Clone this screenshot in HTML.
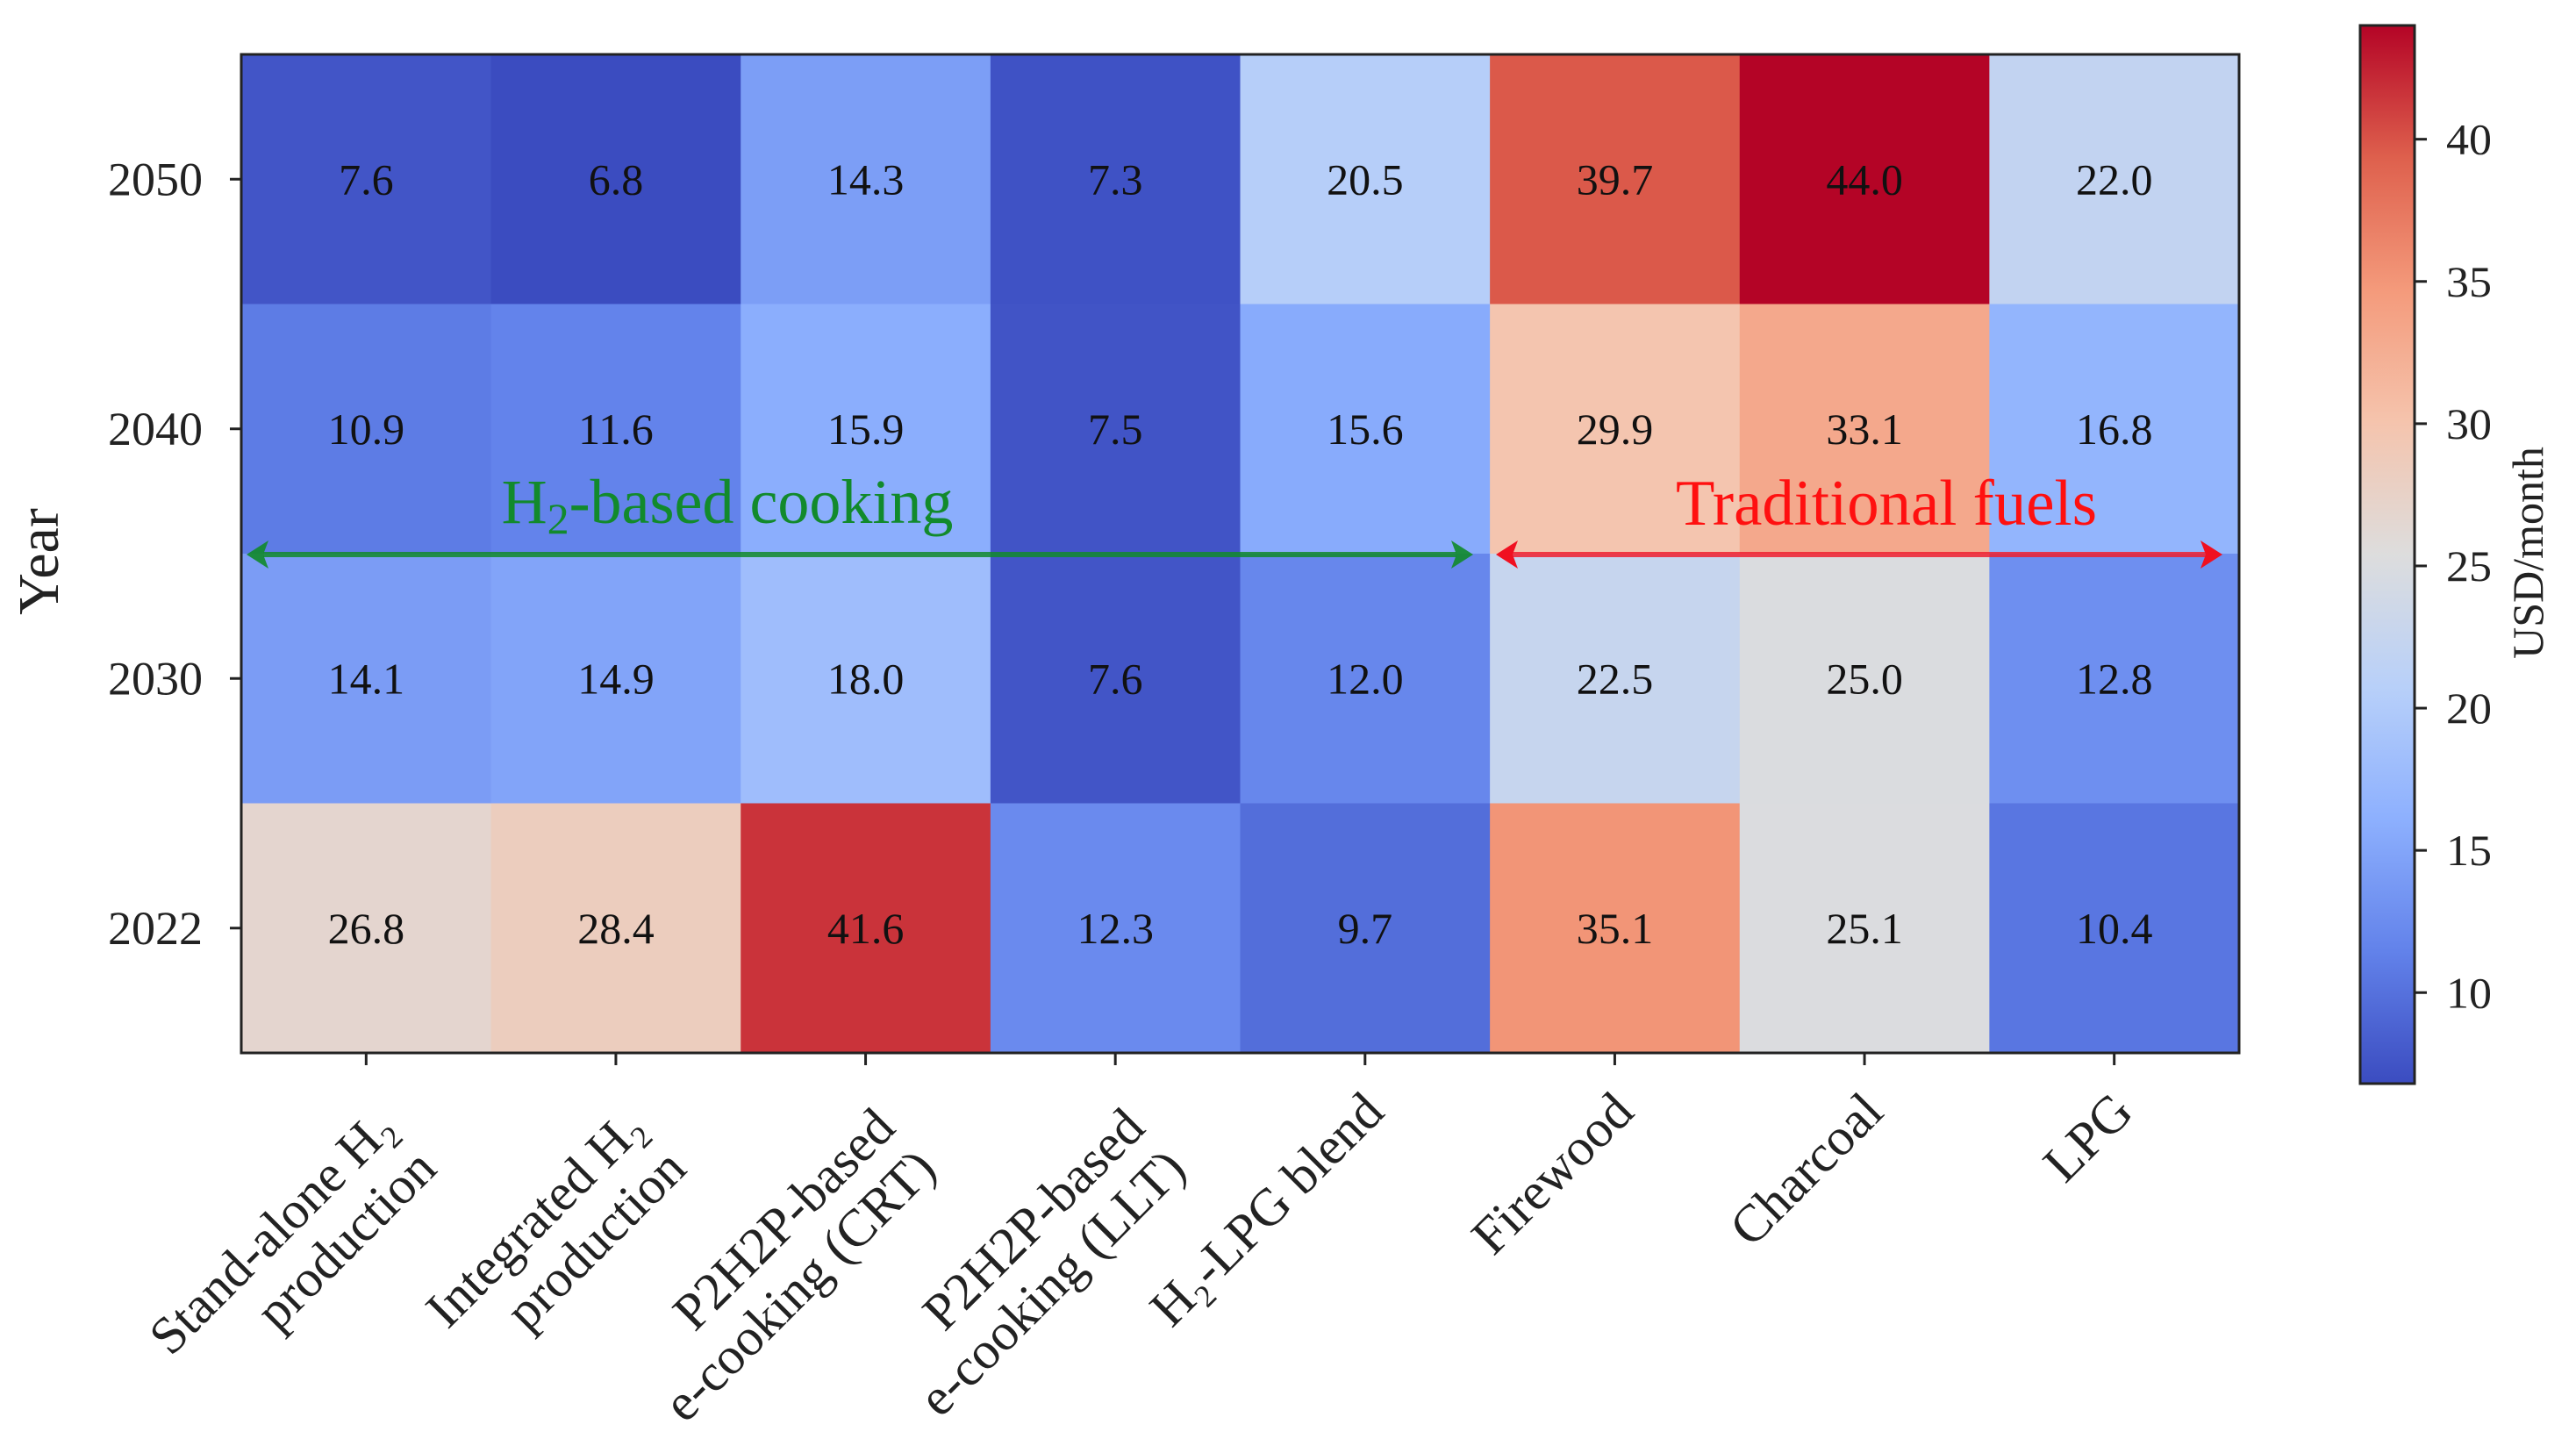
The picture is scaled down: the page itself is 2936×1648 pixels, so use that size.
<!DOCTYPE html>
<html><head><meta charset="utf-8"><style>
html,body{margin:0;padding:0;background:#fff;}
svg{display:block;font-family:"Liberation Serif",serif;}
</style></head><body>
<svg id="chart" width="2936" height="1648" viewBox="0 0 2936 1648" xmlns="http://www.w3.org/2000/svg">
<defs><linearGradient id="cbgrad" x1="0" y1="1" x2="0" y2="0"></linearGradient></defs>
<g id="cells"></g>
<g id="vals"></g>
<rect x="275" y="62" width="2277" height="1138" fill="none" stroke="#222" stroke-width="3"/>
<g id="yaxis"></g>
<g id="xaxis"></g>
<text transform="translate(66,640) rotate(-90)" text-anchor="middle" font-size="66" fill="#222">Year</text>
<g>
<line x1="300" y1="632" x2="1660" y2="632" stroke="#118a2a" stroke-width="6" opacity="0.85"/>
<polygon points="281,632 306,616 300,632 306,648" fill="#118a2a" opacity="0.9"/>
<polygon points="1679,632 1654,616 1660,632 1654,648" fill="#118a2a" opacity="0.9"/>
<text x="829" y="596" text-anchor="middle" font-size="72" fill="#128a2c">H<tspan font-size="50" dy="12">2</tspan><tspan dy="-12">-based cooking</tspan></text>
</g>
<g>
<line x1="1724" y1="632" x2="2514" y2="632" stroke="#f02030" stroke-width="6" opacity="0.85"/>
<polygon points="1705,632 1730,616 1724,632 1730,648" fill="#f01020"/>
<polygon points="2533,632 2508,616 2514,632 2508,648" fill="#f01020"/>
<text x="2150" y="598" text-anchor="middle" font-size="74" fill="#ff1010" textLength="480" lengthAdjust="spacingAndGlyphs">Traditional fuels</text>
</g>
<g id="cbar">
<rect x="2690" y="29" width="62" height="1206" fill="url(#cbgrad)" stroke="#222" stroke-width="3"/>
</g>
<text transform="translate(2898,630) rotate(-90)" text-anchor="middle" font-size="50" fill="#222">USD/month</text>
<script>
const categories=[["Stand-alone H\u2082","production"],["Integrated H\u2082","production"],["P2H2P-based","e-cooking (CRT)"],["P2H2P-based","e-cooking (LLT)"],["H\u2082-LPG blend"],["Firewood"],["Charcoal"],["LPG"]];
const years=["2050","2040","2030","2022"];
const row2050=[7.6,6.8,14.3,7.3,20.5,39.7,44.0,22.0];
const row2040=[10.9,11.6,15.9,7.5,15.6,29.9,33.1,16.8];
const row2030=[14.1,14.9,18.0,7.6,12.0,22.5,25.0,12.8];
const row2022=[26.8,28.4,41.6,12.3,9.7,35.1,25.1,10.4];
const colorbarTicks=[10,15,20,25,30,35,40];
const vmin=6.8, vmax=44.0;

const NS="http://www.w3.org/2000/svg";
const rows=[row2050,row2040,row2030,row2022];
const PL=275,PT=62,PW=2277,PH=1138;
const cw=PW/categories.length, ch=PH/years.length;
const cmap=[[59,76,192],[98,130,234],[141,176,254],[184,208,249],[221,221,221],[245,196,173],[244,154,123],[222,96,77],[180,4,38]];
function color(v){let t=(v-vmin)/(vmax-vmin);t=Math.max(0,Math.min(1,t));const p=t*8;const i=Math.min(7,Math.floor(p));const f=p-i;const a=cmap[i],b=cmap[i+1];return 'rgb('+a.map((c,k)=>Math.round(c+(b[k]-c)*f)).join(',')+')';}
function xs(i){return PL+i*cw;}
function ys(j){return PT+j*ch;}
function mk(tag,attrs,parent){const e=document.createElementNS(NS,tag);for(const k in attrs)e.setAttribute(k,attrs[k]);parent.appendChild(e);return e;}
const gc=document.getElementById('cells'),gv=document.getElementById('vals');
rows.forEach((r,j)=>{r.forEach((v,i)=>{
 const c=mk('rect',{x:xs(i),y:ys(j),width:cw+0.5,height:ch+0.5,fill:color(v)},gc);
 
 
 const t=mk('text',{x:xs(i)+cw/2,y:ys(j)+ch/2+17,'text-anchor':'middle','font-size':50,fill:'#111'},gv);
 
 
 t.textContent=v.toFixed(1);
});});
const gy=document.getElementById('yaxis');
years.forEach((y,j)=>{const cy=ys(j)+ch/2;
 const l=mk('line',{x1:PL-13,x2:PL,y1:cy,y2:cy,stroke:'#222','stroke-width':3},gy);
 
 
 const t=mk('text',{x:PL-44,y:cy+18,'text-anchor':'end','font-size':54,fill:'#222',textLength:108,lengthAdjust:'spacingAndGlyphs'},gy);
 
 
 t.textContent=y;});
const gx=document.getElementById('xaxis');
categories.forEach((lines,i)=>{const cx=xs(i)+cw/2;
 const l=mk('line',{x1:cx,x2:cx,y1:PT+PH,y2:PT+PH+14,stroke:'#222','stroke-width':3},gx);
 
 
 const two=lines.length>1;
 const ax=cx+(two?22:10), ay=two?1274:1256;
 const t=mk('text',{transform:'translate('+ax+','+ay+') rotate(-45)','text-anchor':'end','font-size':60,fill:'#222'},gx);
 
 
 lines.forEach((s,k)=>{const sp=mk('tspan',{x:0,y:k*66+20},t);sp.textContent=s;});});
const grad=document.getElementById('cbgrad');
cmap.forEach((c,k)=>{mk('stop',{offset:(k/8),'stop-color':'rgb('+c.join(',')+')'},grad);});
const gb=document.getElementById('cbar');
const cbT=29,cbH=1206;
function cy(v){return cbT+cbH*(vmax-v)/(vmax-vmin);}
colorbarTicks.forEach(v=>{
 const l=mk('line',{x1:2752,x2:2766,y1:cy(v),y2:cy(v),stroke:'#222','stroke-width':3},gb);
 
 
 const t=mk('text',{x:2788,y:cy(v)+17,'font-size':50,fill:'#222',textLength:52,lengthAdjust:'spacingAndGlyphs'},gb);
 
 
 t.textContent=v;});
</script>
</svg>
</body></html>
